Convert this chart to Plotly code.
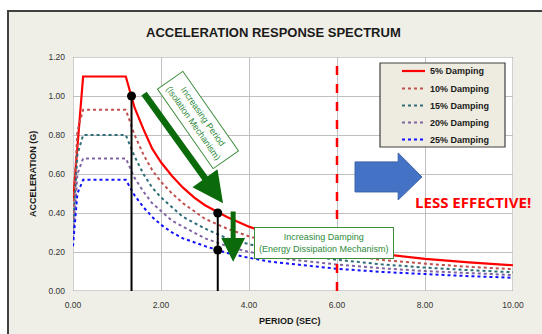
import plotly.graph_objects as go

# ---- data ----
periods = [0, 0.1, 0.23, 1.2, 1.4, 1.6, 1.8, 2.0, 2.25, 2.5, 2.75, 3, 3.5, 4, 4.5, 5, 6, 7, 8, 9, 10]
damp5  = [0.46, 0.76, 1.10, 1.10, 0.94, 0.83, 0.73, 0.66, 0.59, 0.53, 0.48, 0.44, 0.38, 0.33, 0.29, 0.26, 0.22, 0.19, 0.165, 0.147, 0.132]
damp10 = [0.37, 0.82, 0.93, 0.93, 0.80, 0.70, 0.62, 0.56, 0.50, 0.45, 0.41, 0.37, 0.32, 0.28, 0.25, 0.22, 0.19, 0.16, 0.14, 0.124, 0.112]
damp15 = [0.32, 0.70, 0.80, 0.80, 0.69, 0.60, 0.53, 0.48, 0.43, 0.38, 0.35, 0.32, 0.27, 0.24, 0.21, 0.19, 0.16, 0.137, 0.12, 0.107, 0.096]
damp20 = [0.27, 0.60, 0.68, 0.68, 0.58, 0.51, 0.45, 0.41, 0.36, 0.33, 0.30, 0.27, 0.23, 0.20, 0.18, 0.16, 0.136, 0.117, 0.102, 0.091, 0.082]
damp25 = [0.23, 0.50, 0.57, 0.57, 0.49, 0.43, 0.38, 0.34, 0.30, 0.27, 0.25, 0.23, 0.195, 0.17, 0.15, 0.137, 0.114, 0.098, 0.086, 0.076, 0.068]
series_names = ["5% Damping", "10% Damping", "15% Damping", "20% Damping", "25% Damping"]

marker_t = [1.33, 3.29]          # vertical black lines (period)
marker_top = [1.00, 0.40]        # their heights
lower_dot = [3.29, 0.21]         # second dot on damped curve
limit_period = 6.0               # red dashed limit
x_ticks = [0, 2, 4, 6, 8, 10]
y_ticks = [0, 0.2, 0.4, 0.6, 0.8, 1.0, 1.2]

# layout helpers (pixel geometry of the plot area)
L, R, T, B = 73, 513, 57, 291
W, H = R - L, B - T
def px(xp): return (xp - L) / W
def py(yp): return (B - yp) / H

fig = go.Figure()

styles = [
    dict(color="#FF0000", width=2.2, dash="solid"),
    dict(color="#C0504D", width=2, dash="dot"),
    dict(color="#2E6E78", width=2, dash="dot"),
    dict(color="#8064A2", width=2, dash="dot"),
    dict(color="#1010FF", width=2, dash="dot"),
]
for name, vals, st in zip(series_names, [damp5, damp10, damp15, damp20, damp25], styles):
    fig.add_trace(go.Scatter(x=periods, y=vals, mode="lines", name=name, line=st, showlegend=False))

# black vertical lines
for t, h in zip(marker_t, marker_top):
    fig.add_trace(go.Scatter(x=[t, t], y=[0, h], mode="lines", line=dict(color="black", width=2),
                             showlegend=False, hoverinfo="skip"))
fig.add_trace(go.Scatter(x=marker_t + [lower_dot[0]], y=marker_top + [lower_dot[1]], mode="markers",
                         marker=dict(color="black", size=9), showlegend=False))
# red dashed limit
fig.add_trace(go.Scatter(x=[limit_period, limit_period], y=[0, 1.2], mode="lines",
                         line=dict(color="#FF0000", width=2.5, dash="dash"), showlegend=False, hoverinfo="skip"))

shapes = [
    # beige frame
    dict(type="rect", xref="paper", yref="paper", x0=px(8), x1=1.2, y0=-0.5, y1=py(11),
         fillcolor="#F0EFE7", line=dict(color="#404040", width=2), layer="below"),
    # white plot area
    dict(type="rect", xref="x", yref="y", x0=0, x1=10, y0=0, y1=1.2,
         fillcolor="white", line=dict(color="#A0A0A0", width=1), layer="below"),
    # blue block arrow
    dict(type="path", xref="x", yref="y",
         path="M 6.41 0.662 L 7.39 0.662 L 7.39 0.708 L 7.93 0.585 L 7.39 0.467 L 7.39 0.508 L 6.41 0.508 Z",
         fillcolor="#4472C4", line=dict(color="#3A62AA", width=1)),
    # legend box
    dict(type="rect", xref="paper", yref="paper", x0=px(380), x1=px(505), y0=py(147), y1=py(63),
         fillcolor="#EEECE1", line=dict(color="#404040", width=1.2)),
]

annotations = [
    dict(text="<b>ACCELERATION RESPONSE SPECTRUM</b>", xref="paper", yref="paper",
         x=px(273), y=py(33), xanchor="center", yanchor="middle", showarrow=False,
         font=dict(family="Arial", size=13, color="#1a1a1a")),
    # green arrows
    dict(x=3.41, y=0.45, ax=1.59, ay=1.02, xref="x", yref="y", axref="x", ayref="y",
         showarrow=True, arrowhead=2, arrowsize=0.95, arrowwidth=6.5, arrowcolor="#0B6B0B", text=""),
    dict(x=3.64, y=0.15, ax=3.64, ay=0.415, xref="x", yref="y", axref="x", ayref="y",
         showarrow=True, arrowhead=2, arrowsize=0.95, arrowwidth=5, arrowcolor="#0B6B0B", text=""),
    # text boxes
    dict(text="Increasing Period<br>(Isolation Mechanism)", x=(198 - L) / 44, y=(B - 120) / 195,
         xref="x", yref="y", showarrow=False, textangle=55,
         font=dict(family="Arial", size=9, color="#2E8B3A"), bgcolor="white",
         bordercolor="#3C8C3C", borderwidth=1, borderpad=4),
    dict(text="Increasing Damping<br>(Energy Dissipation Mechanism)", x=(324 - L) / 44, y=(B - 242.5) / 195,
         xref="x", yref="y", showarrow=False,
         font=dict(family="Arial", size=9, color="#2E8B3A"), bgcolor="white",
         bordercolor="#3C8C3C", borderwidth=1, borderpad=4),
    dict(text="<b>LESS EFFECTIVE!</b>", xref="paper", yref="paper", x=px(473), y=py(202),
         xanchor="center", yanchor="middle",
         showarrow=False, font=dict(family="Open Sans", size=15, color="#FF0000")),
    dict(text="<b>ACCELERATION (G)</b>", xref="paper", yref="paper", x=px(33), y=0.5,
         xanchor="center", yanchor="middle",
         showarrow=False, textangle=-90, font=dict(family="Arial", size=9, color="#1a1a1a")),
    dict(text="<b>PERIOD (SEC)</b>", xref="paper", yref="paper", x=px(290), y=py(321),
         xanchor="center", yanchor="middle",
         showarrow=False, font=dict(family="Arial", size=9, color="#1a1a1a")),
]

# manual legend entries
legend_rows = [71, 88.5, 105.5, 122.5, 139.5]
for name, st, ry in zip(series_names, styles, legend_rows):
    shapes.append(dict(type="line", xref="paper", yref="paper", x0=px(402), x1=px(425), y0=py(ry), y1=py(ry),
                       line=dict(color=st["color"], width=st["width"], dash=st["dash"])))
    annotations.append(dict(text="<b>" + name + "</b>", xref="paper", yref="paper", x=px(428), y=py(ry),
                            xanchor="left", yanchor="middle", showarrow=False,
                            font=dict(family="Arial", size=9, color="#1a1a1a")))

fig.update_layout(
    width=542, height=334,
    margin=dict(l=L, r=542 - R, t=T, b=334 - B),
    paper_bgcolor="white", plot_bgcolor="white",
    shapes=shapes, annotations=annotations,
    showlegend=False,
    xaxis=dict(range=[0, 10], tickvals=x_ticks, tickformat=".2f", showgrid=True, gridcolor="#C0C0C0",
               zeroline=False, showline=False, ticks="", ticklabelstandoff=7,
               tickfont=dict(family="Arial", size=8.5, color="#333")),
    yaxis=dict(range=[0, 1.2], tickvals=y_ticks, tickformat=".2f", showgrid=True, gridcolor="#C0C0C0",
               zeroline=False, showline=False, ticks="", ticklabelstandoff=7,
               tickfont=dict(family="Arial", size=8.5, color="#333")),
)

fig.write_html("out.html")
